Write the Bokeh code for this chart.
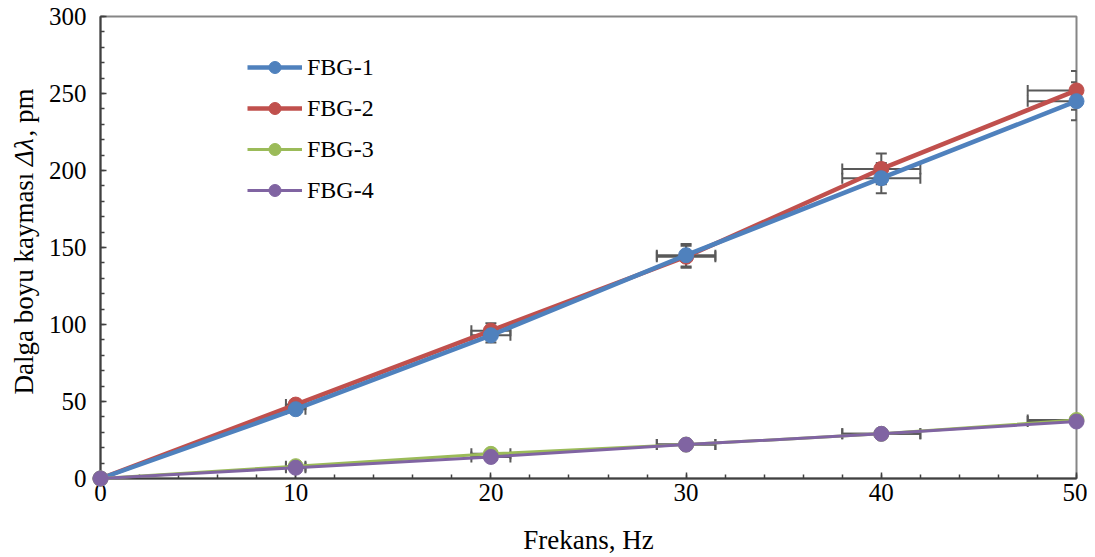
import math
from bokeh.plotting import figure
from bokeh.models import (Whisker, ColumnDataSource, Legend, LegendItem,
                          SingleIntervalTicker, TeeHead, Range1d)
from bokeh.core.properties import value
from bokeh.embed import file_html
from bokeh.resources import INLINE

# ---- data ----
freq = [0, 10, 20, 30, 40, 50]
freq_err = [0, 0.5, 1.0, 1.5, 2.0, 2.5]
names = ["FBG-1", "FBG-2", "FBG-3", "FBG-4"]
fbg1 = [0, 45, 93, 145, 195, 245]
fbg2 = [0, 48, 96, 144, 201, 252]
fbg3 = [0, 8, 16, 22, 29, 38]
fbg4 = [0, 7, 14, 22, 29, 37]
fbg1_err = [0, 2.3, 4.7, 7.3, 9.8, 12.3]
fbg2_err = [0, 2.4, 4.8, 7.2, 10.0, 12.6]
fbg3_err = [0, 0.4, 0.8, 1.1, 1.5, 1.9]
fbg4_err = [0, 0.4, 0.7, 1.1, 1.5, 1.9]
x_title = "Frekans, Hz"
y_title_parts = ["Dalga boyu kayması ", "Δλ", ", pm"]

colors = ["#4F81BD", "#C0504D", "#9BBB59", "#8064A2"]
widths = [4.5, 4.5, 3, 3]
series = [fbg1, fbg2, fbg3, fbg4]
errs = [fbg1_err, fbg2_err, fbg3_err, fbg4_err]

FONT = "Liberation Serif"
ERR_COLOR = "#595959"

p = figure(width=1087, height=557, output_backend="svg", toolbar_location=None,
           x_range=Range1d(0, 50), y_range=Range1d(0, 300),
           min_border_left=100, min_border_right=11, min_border_top=16,
           min_border_bottom=78)
p.grid.visible = False
p.outline_line_color = "#868686"
p.outline_line_width = 2
p.background_fill_color = "white"
p.border_fill_color = "white"

for ax in (p.xaxis[0], p.yaxis[0]):
    ax.axis_line_color = "#404040"
    ax.axis_line_width = 2
    ax.major_tick_line_color = "#404040"
    ax.minor_tick_line_color = "#404040"
    ax.major_tick_line_width = 1.5
    ax.minor_tick_line_width = 1.5
    ax.major_tick_in = 6
    ax.major_tick_out = 0
    ax.minor_tick_in = 4
    ax.minor_tick_out = 0
    ax.major_label_text_font = FONT
    ax.major_label_text_font_size = "25px"
    ax.major_label_text_color = "black"
    ax.axis_label_text_font = FONT
    ax.axis_label_text_font_size = "27px"
    ax.axis_label_text_font_style = "normal"
    ax.axis_label_text_color = "black"

p.xaxis.ticker = SingleIntervalTicker(interval=10, num_minor_ticks=5)
p.yaxis.ticker = SingleIntervalTicker(interval=50, num_minor_ticks=5)
p.xaxis.major_label_standoff = 5
p.yaxis.major_label_standoff = 14
p.xaxis.axis_label = x_title
p.xaxis.axis_label_standoff = 21

# y-axis title with italic Δλ, built from three rotated text pieces
y_pos_split = 203      # where the italic part starts (data units on y)
y_pos_tail = 222       # where ", pm" starts
x_pos_title = -3.93    # left of the axis (data units on x)
tstyle = dict(angle=math.pi / 2, text_font=value(FONT),
              text_font_size=value("27px"), text_color="black",
              text_baseline="middle", level="overlay")
p.text(x=[x_pos_title], y=[y_pos_split], text=[y_title_parts[0]],
       text_align="right", **tstyle)
p.text(x=[x_pos_title], y=[y_pos_split], text=[y_title_parts[1]],
       text_align="left", text_font_style="italic", **tstyle)
p.text(x=[x_pos_title], y=[y_pos_tail], text=[y_title_parts[2]],
       text_align="left", **tstyle)

# error bars
for ys, es in zip(series, errs):
    src = ColumnDataSource(dict(
        x=freq, y=ys,
        ylo=[a - b for a, b in zip(ys, es)], yhi=[a + b for a, b in zip(ys, es)],
        xlo=[a - b for a, b in zip(freq, freq_err)], xhi=[a + b for a, b in zip(freq, freq_err)],
    ))
    wv = Whisker(source=src, base="x", lower="ylo", upper="yhi", dimension="height",
                 line_color=ERR_COLOR, line_width=2,
                 upper_head=TeeHead(size=11, line_color=ERR_COLOR, line_width=2),
                 lower_head=TeeHead(size=11, line_color=ERR_COLOR, line_width=2))
    wh = Whisker(source=src, base="y", lower="xlo", upper="xhi", dimension="width",
                 line_color=ERR_COLOR, line_width=2,
                 upper_head=TeeHead(size=11, line_color=ERR_COLOR, line_width=2),
                 lower_head=TeeHead(size=11, line_color=ERR_COLOR, line_width=2))
    p.add_layout(wv)
    p.add_layout(wh)

renders = {}
for idx in [1, 0, 2, 3]:
    ln = p.line(freq, series[idx], line_color=colors[idx], line_width=widths[idx],
                level="overlay")
    sc = p.scatter(freq, series[idx], size=15, fill_color=colors[idx],
                   line_color=colors[idx], level="overlay")
    renders[idx] = [ln, sc]

items = [LegendItem(label=names[i], renderers=renders[i]) for i in range(4)]
legend = Legend(items=items, location=(147, 273), orientation="vertical",
                label_text_font=FONT, label_text_font_size="24px",
                label_text_color="black", glyph_width=55, glyph_height=30,
                label_height=30, label_standoff=5, spacing=11, padding=0,
                margin=0, border_line_color=None, background_fill_alpha=0)
p.add_layout(legend, "center")

open("out.html", "w").write(file_html(p, INLINE))
